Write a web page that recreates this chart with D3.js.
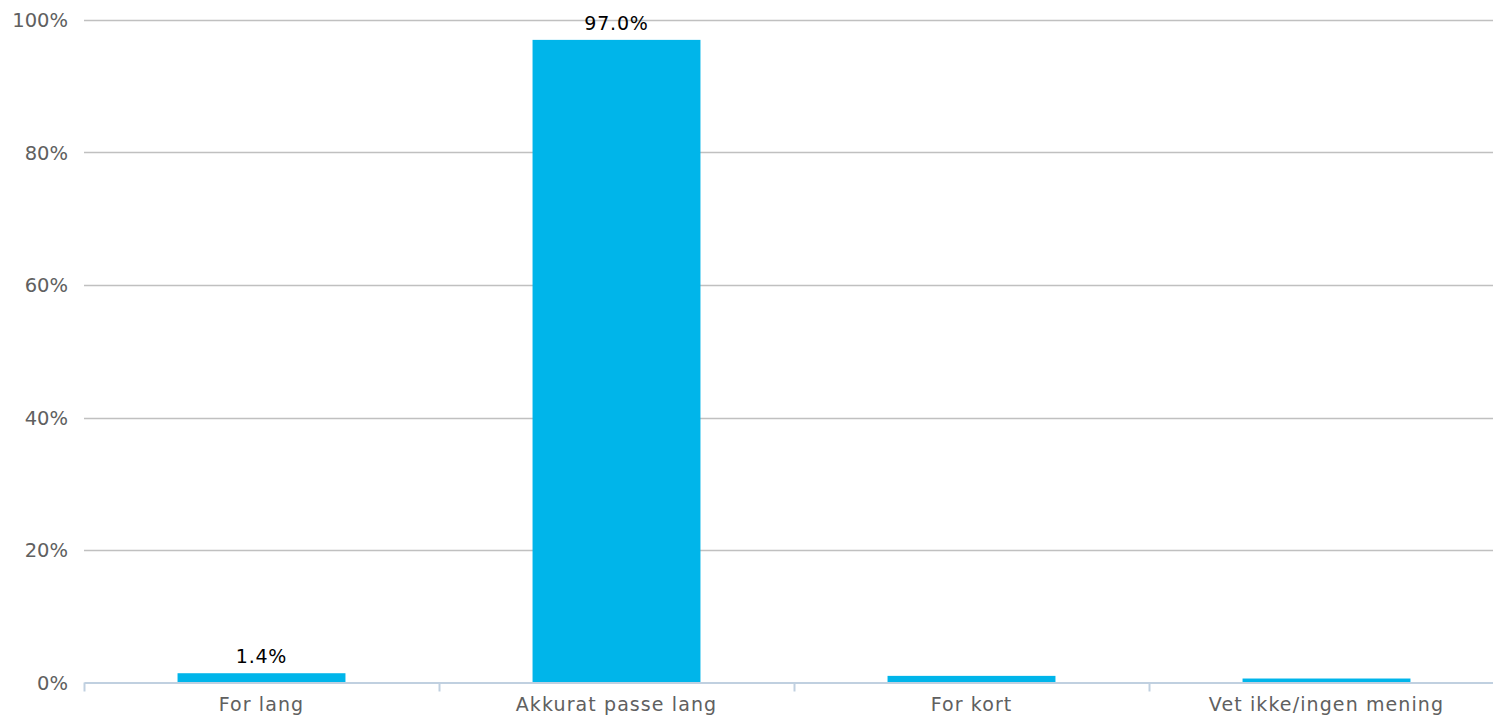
<!DOCTYPE html>
<html>
<head>
<meta charset="utf-8">
<script src="https://cdn.jsdelivr.net/npm/d3@7"></script>
<style>
  html, body { margin: 0; padding: 0; background: #fff; }
  svg { display: block; }
  text { font-family: "DejaVu Sans", "Lucida Grande", sans-serif; }
</style>
</head>
<body>
<svg id="chart" width="1493" height="716"></svg>
<script>
const categories = ["For lang", "Akkurat passe lang", "For kort", "Vet ikke/ingen mening"];
const values = [1.4, 97.0, 1.0, 0.6];
const showLabel = [true, true, false, false];
const yTicks = [0, 20, 40, 60, 80, 100];

const svg = d3.select("#chart");
const plotLeft = 84, plotRight = 1504, plotTop = 20, plotBottom = 682.5;

const x = d3.scaleBand().domain(categories).range([plotLeft, plotRight]).padding(0);
const y = d3.scaleLinear().domain([0, 100]).range([plotBottom, plotTop]);
const barW = x.bandwidth() * 0.473;

// gridlines
svg.append("g").selectAll("line").data(yTicks.filter(d => d !== 0)).join("line")
  .attr("x1", plotLeft).attr("x2", plotRight)
  .attr("y1", d => Math.round(y(d)) + 0.5).attr("y2", d => Math.round(y(d)) + 0.5)
  .attr("stroke", "#c0c0c0").attr("stroke-width", 1.5);

// y labels
svg.append("g").selectAll("text").data(yTicks).join("text")
  .attr("x", 68).attr("y", d => y(d) + 7)
  .attr("text-anchor", "end")
  .attr("fill", "#606060").attr("font-size", "19.5px")
  .text(d => d + "%");

// bars
svg.append("g").selectAll("rect").data(values).join("rect")
  .attr("x", (d, i) => x(categories[i]) + (x.bandwidth() - barW) / 2)
  .attr("width", barW)
  .attr("y", d => y(d))
  .attr("height", d => plotBottom - y(d))
  .attr("fill", "#00b5ea");

// x axis
const xAxis = d3.axisBottom(x).tickSize(0).tickFormat(d => d);
const gx = svg.append("g").attr("transform", `translate(0,${plotBottom})`).call(xAxis);
gx.select(".domain").attr("stroke", "#c0d0e0").attr("stroke-width", 2);
gx.selectAll("text").attr("fill", "#606060").attr("font-size", "19px").attr("dy", "0").attr("y", 28)
  .attr("letter-spacing", "1.1px")
  .attr("font-family", "DejaVu Sans, sans-serif");

// category separators (ticks at band edges)
const edges = [plotLeft].concat(categories.map(c => x(c) + x.bandwidth()));
svg.append("g").selectAll("line").data(edges).join("line")
  .attr("x1", d => Math.round(d) + 0.5).attr("x2", d => Math.round(d) + 0.5)
  .attr("y1", plotBottom).attr("y2", plotBottom + 9)
  .attr("stroke", "#c0d0e0").attr("stroke-width", 2);

// value labels
svg.append("g").selectAll("text").data(values.map((v, i) => ({v, i})).filter(d => showLabel[d.i])).join("text")
  .attr("x", d => x(categories[d.i]) + x.bandwidth() / 2)
  .attr("y", d => y(d.v) - 10)
  .attr("text-anchor", "middle")
  .attr("fill", "#000").attr("font-size", "19px")
  .attr("letter-spacing", "0.8px")
  .text(d => d.v.toFixed(1) + "%");
</script>
</body>
</html>
